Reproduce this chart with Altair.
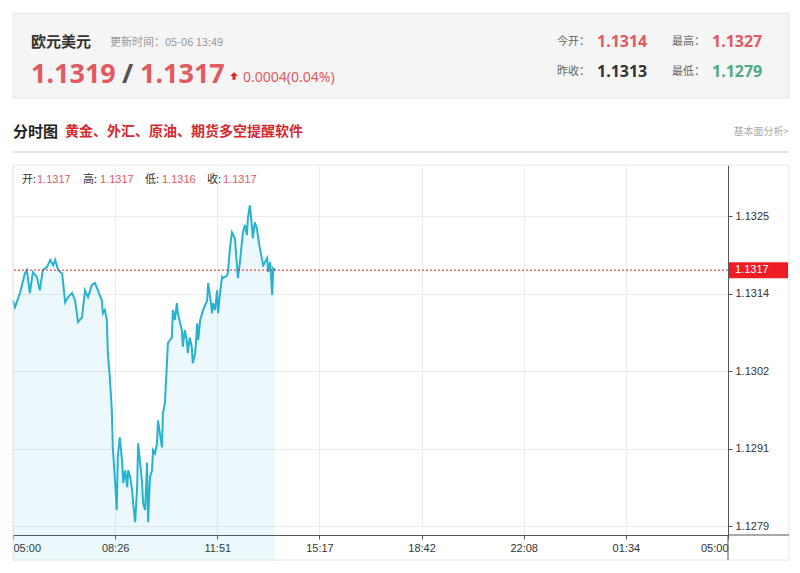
import altair as alt
import pandas as pd

# ---------------- data ----------------
MINUTES = [0, 4, 14, 24, 28, 34, 40, 48, 54, 60,
           68, 75, 81, 85, 91, 99, 105, 111, 119, 125,
           131, 139, 145, 151, 159, 165, 171, 179, 181, 185,
           189, 191, 195, 199, 201, 205, 209, 211, 215, 220,
           222, 226, 230, 232, 236, 240, 242, 246, 250, 252,
           256, 260, 262, 266, 270, 272, 276, 280, 282, 286,
           290, 292, 300, 302, 306, 310, 312, 316, 320, 322,
           326, 330, 332, 340, 342, 346, 350, 352, 356, 360,
           362, 367, 371, 373, 377, 383, 391, 393, 397, 401,
           403, 407, 411, 413, 417, 421, 423, 431, 433, 437,
           441, 447, 453, 457, 463, 467, 471, 473, 477, 481,
           483, 487, 491, 497, 504, 512, 514, 518, 522, 524,
           528]
PRICES = [1.13125, 1.13115, 1.13136, 1.13165, 1.13170, 1.13136, 1.13167, 1.13160, 1.13140, 1.13170,
          1.13174, 1.13185, 1.13177, 1.13185, 1.13170, 1.13165, 1.13122, 1.13130, 1.13136, 1.13125,
          1.13093, 1.13100, 1.13140, 1.13130, 1.13148, 1.13151, 1.13140, 1.13125, 1.13106, 1.13111,
          1.13096, 1.13047, 1.13011, 1.12962, 1.12907, 1.12863, 1.12814, 1.12892, 1.12922, 1.12884,
          1.12854, 1.12873, 1.12848, 1.12873, 1.12863, 1.12843, 1.12824, 1.12796, 1.12848, 1.12913,
          1.12884, 1.12854, 1.12824, 1.12814, 1.12884, 1.12796, 1.12863, 1.12873, 1.12903, 1.12898,
          1.12913, 1.12947, 1.12907, 1.12958, 1.12973, 1.13032, 1.13062, 1.13066, 1.13070, 1.13111,
          1.13096, 1.13121, 1.13106, 1.13081, 1.13056, 1.13081, 1.13066, 1.13047, 1.13070, 1.13056,
          1.13032, 1.13047, 1.13091, 1.13066, 1.13096, 1.13111, 1.13125, 1.13151, 1.13130, 1.13106,
          1.13121, 1.13111, 1.13140, 1.13106, 1.13136, 1.13160, 1.13158, 1.13162, 1.13167, 1.13203,
          1.13226, 1.13217, 1.13158, 1.13182, 1.13226, 1.13237, 1.13222, 1.13247, 1.13266, 1.13237,
          1.13217, 1.13241, 1.13232, 1.13203, 1.13177, 1.13188, 1.13167, 1.13182, 1.13133, 1.13173,
          1.13170]

X_TICK_LABELS = ["05:00", "08:26", "11:51", "15:17", "18:42", "22:08", "01:34", "05:00"]
Y_TICK_LABELS = ["1.1279", "1.1291", "1.1302", "1.1314", "1.1325"]
X_DOMAIN = [0, 1440]
Y_DOMAIN = [1.12777, 1.13326]
CLOSE = 1.1317

TITLE = "欧元美元"
UPDATE = "更新时间：05-06 13:49"
BID = "1.1319"
ASK = "1.1317"
CHANGE = "0.0004(0.04%)"
STAT_LABELS = ["今开：", "最高：", "昨收：", "最低："]
STAT_VALUES = ["1.1314", "1.1327", "1.1313", "1.1279"]
SUBTITLE = "分时图"
PROMO = "黄金、外汇、原油、期货多空提醒软件"
LINK = "基本面分析>"
OHLC_LABELS = ["开:", "高:", "低:", "收:"]
OHLC_VALUES = ["1.1317", "1.1317", "1.1316", "1.1317"]

# ---------------- styling ----------------
W, H = 715, 370
FRAME_R, FRAME_B = 776, 395
CJK = "Noto Sans CJK SC"
NUM = "Noto Sans"
AX = "Liberation Sans"
RED = "#e05a5f"
LINE = "#27b3cf"

df = pd.DataFrame({"m": MINUTES, "p": PRICES})
ONE = pd.DataFrame({"k": [0]})

n_x = len(X_TICK_LABELS) - 1
x_step = (X_DOMAIN[1] - X_DOMAIN[0]) / n_x
x_ticks = [X_DOMAIN[0] + i * x_step for i in range(len(X_TICK_LABELS))]
y_lo, y_hi = float(Y_TICK_LABELS[0]), float(Y_TICK_LABELS[-1])
y_step = (y_hi - y_lo) / (len(Y_TICK_LABELS) - 1)
y_ticks = [y_lo + i * y_step for i in range(len(Y_TICK_LABELS))]

x_label_expr = "%s[round(datum.value / %f)]" % (str(X_TICK_LABELS), x_step)
y_label_expr = "%s[round((datum.value - %f) / %f)]" % (str(Y_TICK_LABELS), y_lo, y_step)

x_enc = alt.X("m:Q", scale=alt.Scale(domain=X_DOMAIN, nice=False, zero=False),
              axis=alt.Axis(values=x_ticks, labelExpr=x_label_expr, title=None,
                            grid=True, gridColor="#ebebeb", domainColor="#555555",
                            tickColor="#555555", tickSize=4, labelFlush=True,
                            labelColor="#333333", labelFontSize=11, labelFont=AX,
                            labelPadding=3))
y_enc = alt.Y("p:Q", scale=alt.Scale(domain=Y_DOMAIN, nice=False, zero=False),
              axis=alt.Axis(orient="right", values=y_ticks, labelExpr=y_label_expr,
                            title=None, grid=True, gridColor="#ebebeb",
                            domainColor="#555555", tickColor="#555555", tickSize=4,
                            labelColor="#333333", labelFontSize=11, labelFont=AX,
                            labelPadding=3))


def txt(s, x, y, size=12, color="#333333", weight="normal", font=CJK,
        align="left", baseline="middle"):
    return alt.Chart(ONE).mark_text(
        text=s, fontSize=size, color=color, fontWeight=weight, font=font,
        align=align, baseline=baseline
    ).encode(x=alt.value(x), y=alt.value(y))


def box(x, x2, y, y2, fill, stroke=None, opacity=1):
    kw = dict(fill=fill, fillOpacity=opacity)
    if stroke:
        kw["stroke"] = stroke
        kw["strokeWidth"] = 1
    return alt.Chart(ONE).mark_rect(**kw).encode(
        x=alt.value(x), x2=alt.value(x2), y=alt.value(y), y2=alt.value(y2))


def hline(x, x2, y, color, width=1):
    return alt.Chart(ONE).mark_rule(color=color, strokeWidth=width).encode(
        x=alt.value(x), x2=alt.value(x2), y=alt.value(y))


def vline(x, y, y2, color, width=1):
    return alt.Chart(ONE).mark_rule(color=color, strokeWidth=width).encode(
        x=alt.value(x), y=alt.value(y), y2=alt.value(y2))


layers = []
# header panel
layers.append(box(0, FRAME_R, -152, -67, "#f5f5f5", "#e6e6e6"))
layers.append(txt(TITLE, 18, -123, size=15, weight="bold", color="#333333"))
layers.append(txt(UPDATE, 97, -122, size=11, color="#999999"))
layers.append(txt(BID, 18, -82, size=27, weight="bold", color=RED, font=NUM,
                  baseline="alphabetic"))
layers.append(txt("/", 109, -82, size=27, weight="bold", color="#555555", font=NUM,
                  baseline="alphabetic"))
layers.append(txt(ASK, 127, -82, size=27, weight="bold", color=RED, font=NUM,
                  baseline="alphabetic"))
layers.append(alt.Chart(ONE).mark_point(
    shape="M-1,0 L0,-1 L1,0 L0.4,0 L0.4,1 L-0.4,1 L-0.4,0 Z",
    filled=True, color="#e02020", size=60, opacity=1
).encode(x=alt.value(221), y=alt.value(-89)))
layers.append(txt(CHANGE, 230, -83, size=14, color=RED, font=NUM,
                  baseline="alphabetic"))
stat_pos = [(544, -123), (659, -123), (544, -93), (659, -93)]
stat_colors = [RED, RED, "#333333", "#4fa886"]
for lab, val, (sx, sy), col in zip(STAT_LABELS, STAT_VALUES, stat_pos, stat_colors):
    layers.append(txt(lab, sx, sy, size=11, color="#666666"))
    layers.append(txt(val, sx + 40, sy, size=16, weight="bold", color=col, font=NUM))

# sub header
layers.append(txt(SUBTITLE, 0, -33, size=15, weight="bold", color="#222222"))
layers.append(txt(PROMO, 52, -33, size=14, weight="bold", color="#d62a2f"))
layers.append(txt(LINK, FRAME_R, -33, size=10, color="#aaaaaa", align="right"))
layers.append(hline(0, FRAME_R, -13, "#cccccc"))

# chart frame
layers.append(box(0, FRAME_R, 0, FRAME_B, "#ffffff", "#e6e6e6", opacity=0))
layers.append(vline(W, H, FRAME_B, "#555555"))
layers.append(hline(W, FRAME_R, H, "#555555"))

base = alt.Chart(df)
area = base.mark_area(color=LINE, opacity=0.09).encode(x=x_enc, y=y_enc, y2=alt.value(H))
line = base.mark_line(color=LINE, strokeWidth=2).encode(x="m:Q", y="p:Q")
close_rule = alt.Chart(ONE).mark_rule(color="#e02020", strokeDash=[2, 2],
                                      strokeWidth=1).encode(y=alt.datum(CLOSE))
close_box = alt.Chart(ONE).mark_rect(color="#ee1c25", yOffset=-8, y2Offset=8).encode(
    x=alt.value(716), x2=alt.value(775), y=alt.datum(CLOSE), y2=alt.datum(CLOSE))
close_txt = alt.Chart(ONE).mark_text(text=ASK, color="#ffffff", fontSize=11, font=AX,
                                     align="left", baseline="middle").encode(
    x=alt.value(722), y=alt.datum(CLOSE))

# OHLC strip
ohlc_x = [(9, 24), (70, 87), (132, 149), (194, 210)]
for lab, val, (lx, vx) in zip(OHLC_LABELS, OHLC_VALUES, ohlc_x):
    layers.append(txt(lab, lx, 15, size=11, color="#333333"))
    layers.append(txt(val, vx, 15, size=11, color=RED, font=AX))

chart = alt.layer(area, line, close_rule, close_box, close_txt, *layers).properties(
    width=W, height=H,
    padding={"left": 5, "top": 157, "right": 62, "bottom": 26},
    autosize=alt.AutoSizeParams(type="none"),
).configure_view(stroke="transparent")

chart.save("out.html", embed_options={"renderer": "svg", "actions": False})
